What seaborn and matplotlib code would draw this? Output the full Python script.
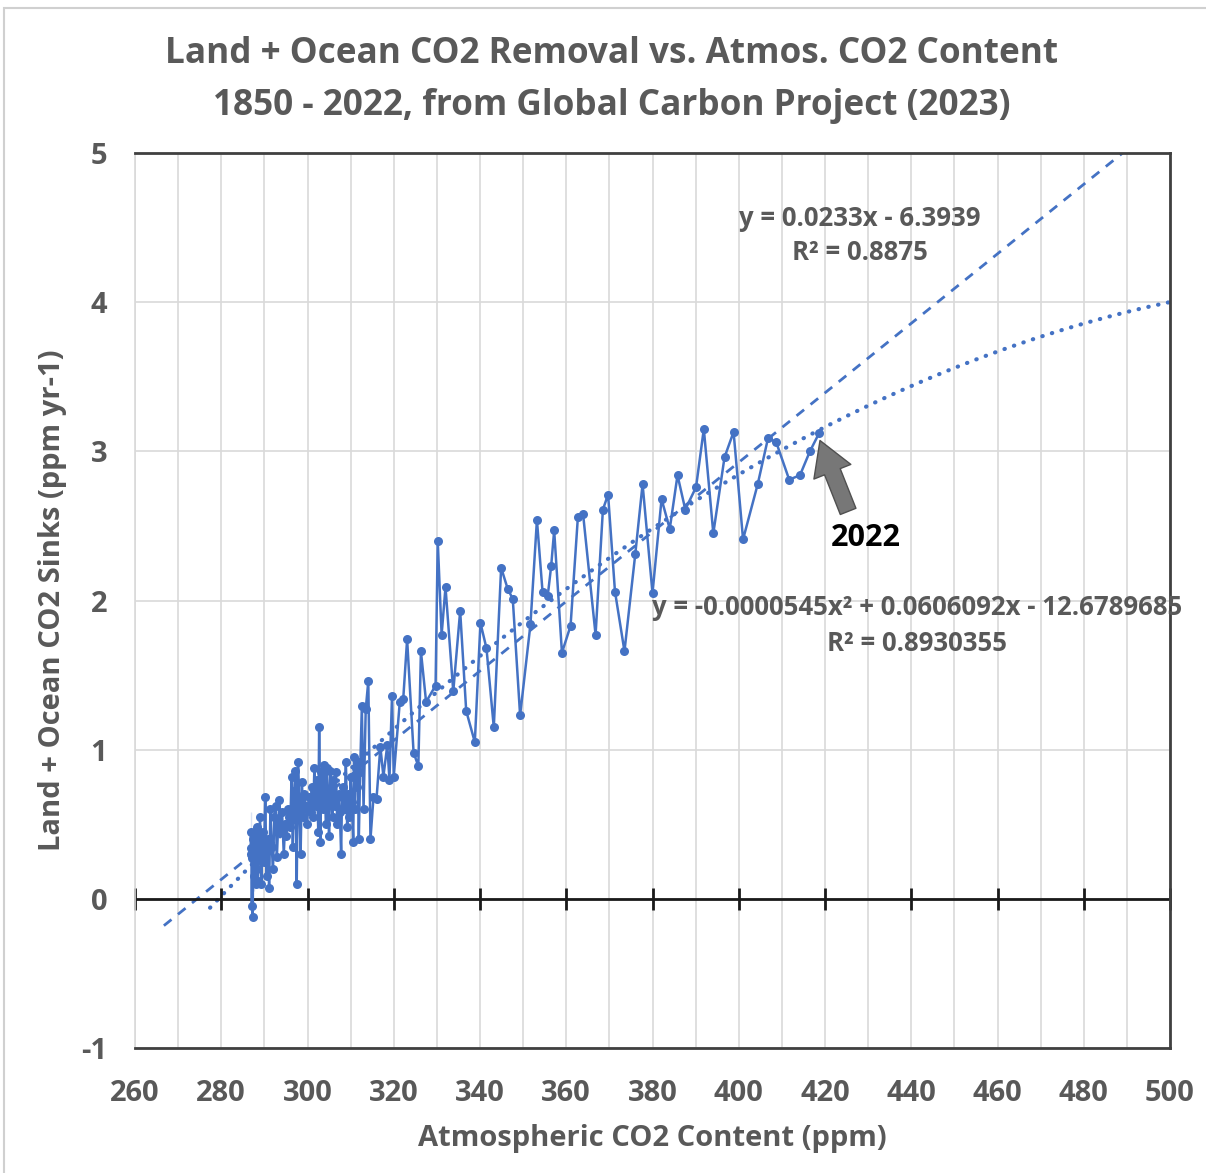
import numpy as np
import pandas as pd
import matplotlib
matplotlib.use("Agg")
import matplotlib.pyplot as plt
import seaborn as sns
from matplotlib.patches import Rectangle

# ---------------- data ----------------
co2_ppm = [
    # 1850-1869
    286.8, 286.9, 287.0, 287.0, 287.1, 287.2, 287.2, 287.3, 287.4, 287.5,
    287.6, 287.6, 287.7, 287.8, 287.9, 288.0, 288.1, 288.2, 288.3, 288.5,
    # 1870-1889
    288.7, 289.0, 289.3, 289.6, 289.9, 290.2, 290.5, 290.8, 291.1, 291.4,
    291.7, 292.0, 292.3, 292.6, 292.9, 293.2, 293.5, 293.8, 294.1, 294.5,
    # 1890-1909
    294.8, 295.1, 295.4, 295.7, 296.0, 296.3, 296.6, 296.9, 297.2, 297.5,
    297.8, 298.1, 298.4, 298.7, 299.0, 299.3, 299.6, 299.9, 300.3, 300.7,
    # 1910-1929
    301.0, 301.3, 301.6, 301.9, 302.2, 302.5, 302.7, 303.0, 303.2, 303.5,
    303.8, 304.0, 304.3, 304.5, 304.8, 305.0, 305.3, 305.5, 305.8, 306.0,
    # 1930-1949
    306.3, 306.6, 306.9, 307.2, 307.5, 307.8, 308.0, 308.3, 308.6, 308.9,
    309.2, 309.5, 309.7, 310.0, 310.3, 310.6, 310.8, 311.0, 311.2, 311.4,
    # 1950-1958
    311.6, 311.9, 312.2, 312.6, 313.0, 313.5, 314.1, 314.6, 315.3,
    # 1959-2022
    316.0, 316.9, 317.6, 318.5, 319.0, 319.6, 320.0, 321.4, 322.2, 323.1,
    324.6, 325.7, 326.3, 327.5, 329.7, 330.2, 331.1, 332.0, 333.8, 335.4,
    336.8, 338.8, 340.1, 341.5, 343.2, 344.9, 346.4, 347.6, 349.3, 351.7,
    353.2, 354.5, 355.7, 356.5, 357.2, 359.0, 361.0, 362.7, 363.9, 366.8,
    368.5, 369.7, 371.3, 373.5, 376.0, 377.7, 380.0, 382.1, 384.0, 385.8,
    387.6, 390.1, 391.9, 394.1, 396.7, 398.8, 401.0, 404.4, 406.8, 408.7,
    411.7, 414.2, 416.5, 418.6,
]
sink_ppm_yr = [
    0.30, 0.45, 0.10, 0.58, -0.05, 0.35, 0.20, -0.12, 0.40, 0.15,
    0.50, 0.05, 0.30, 0.25, 0.45, 0.10, 0.38, 0.20, 0.48, 0.12,
    0.30, 0.55, 0.10, 0.45, 0.25, 0.68, 0.15, 0.40, 0.07, 0.60,
    0.35, 0.20, 0.55, 0.62, 0.28, 0.50, 0.66, 0.45, 0.58, 0.30,
    0.50, 0.42, 0.60, 0.55, 0.48, 0.82, 0.35, 0.72, 0.86, 0.10,
    0.92, 0.65, 0.30, 0.78, 0.55, 0.70, 0.62, 0.50, 0.68, 0.58,
    0.75, 0.55, 0.88, 0.62, 0.80, 0.45, 1.15, 0.38, 0.85, 0.60,
    0.90, 0.72, 0.50, 0.88, 0.65, 0.42, 0.86, 0.70, 0.55, 0.80,
    0.62, 0.85, 0.50, 0.70, 0.58, 0.30, 0.68, 0.75, 0.60, 0.92,
    0.48, 0.70, 0.55, 0.82, 0.65, 0.38, 0.95, 0.60, 0.88, 0.75,
    0.92, 0.40, 0.85, 1.29, 0.60, 1.27, 1.46, 0.40, 0.68,
    0.67, 1.02, 0.82, 1.03, 0.80, 1.36, 0.82, 1.32, 1.34, 1.74,
    0.98, 0.89, 1.66, 1.32, 1.43, 2.40, 1.77, 2.09, 1.39, 1.93,
    1.26, 1.05, 1.85, 1.68, 1.15, 2.22, 2.08, 2.01, 1.23, 1.84,
    2.54, 2.06, 2.03, 2.23, 2.47, 1.65, 1.83, 2.56, 2.58, 1.77,
    2.61, 2.71, 2.06, 1.66, 2.31, 2.78, 2.05, 2.68, 2.48, 2.84,
    2.61, 2.76, 3.15, 2.45, 2.96, 3.13, 2.41, 2.78, 3.09, 3.06,
    2.81, 2.84, 3.00, 3.12,
]

x_ticks = [260, 280, 300, 320, 340, 360, 380, 400, 420, 440, 460, 480, 500]
x_minor = [260, 270, 280, 290, 300, 310, 320, 330, 340, 350, 360, 370, 380,
           390, 400, 410, 420, 430, 440, 450, 460, 470, 480, 490, 500]
y_ticks = [-1, 0, 1, 2, 3, 4, 5]

lin_coef = [0.0233, -6.3939]
quad_coef = [-0.0000545, 0.0606092, -12.6789685]
lin_span = [266.7, 500.0]
quad_span = [277.4, 500.0]

title_lines = ["Land + Ocean CO2 Removal vs. Atmos. CO2 Content",
               "1850 - 2022, from Global Carbon Project (2023)"]
lin_label_1 = "y = 0.0233x - 6.3939"
lin_label_2 = "R² = 0.8875"
quad_label_1 = "y = -0.0000545x² + 0.0606092x - 12.6789685"
quad_label_2 = "R² = 0.8930355"
last_year = "2022"

# ---------------- styling ----------------
BLUE = "#4472C4"
GRAY = "#595959"
GRID = "#d9d9d9"

sns.set_theme(style="white")
plt.rcParams['font.family'] = ['Open Sans', 'DejaVu Sans']
plt.rcParams['axes.unicode_minus'] = False

W, H = 1206, 1173
fig = plt.figure(figsize=(W / 100, H / 100), dpi=100)
L, R, T, B = 135, 1170, 153, 1048
ax = fig.add_axes([L / W, 1 - B / H, (R - L) / W, (B - T) / H])

# trend lines
xl = np.linspace(lin_span[0], lin_span[1], 200)
yl = np.polyval(lin_coef, xl)
xq = np.linspace(quad_span[0], quad_span[1], 200)
yq = np.polyval(quad_coef, xq)
sns.lineplot(x=xl, y=yl, ax=ax, color=BLUE, lw=2, linestyle=(0, (3.5, 3)),
             sort=False, zorder=2)
sns.lineplot(x=xq, y=yq, ax=ax, color=BLUE, lw=3.0, linestyle=(0, (0.1, 2.3)),
             dash_capstyle='round', solid_capstyle='round', sort=False, zorder=2)

# data series
df = pd.DataFrame({"co2": co2_ppm, "sink": sink_ppm_yr})
sns.lineplot(data=df, x="co2", y="sink", sort=False, ax=ax, color=BLUE,
             lw=1.8, marker="o", markersize=6.5, markeredgewidth=0, zorder=3)

ax.set_xlim(260, 500)
ax.set_ylim(-1, 5)
ax.set_xticks(x_ticks)
ax.set_xticks(x_minor, minor=True)
ax.set_yticks(y_ticks)
ax.grid(True, which="both", axis="x", color=GRID, lw=1.2, zorder=0)
ax.grid(True, which="major", axis="y", color=GRID, lw=1.2, zorder=0)
ax.set_axisbelow(True)

# x axis at y = 0 with crossing tick marks
ax.axhline(0, color="#1a1a1a", lw=2, zorder=2.5)
ax.plot(x_ticks, [0] * len(x_ticks), ls="none", marker="|", ms=16, mew=2,
        color="#1a1a1a", zorder=2.5, clip_on=False)

for side in ["top", "right", "bottom"]:
    ax.spines[side].set_color("#404040")
    ax.spines[side].set_linewidth(2)
ax.spines["left"].set_color(GRID)
ax.spines["left"].set_linewidth(1.2)

ax.tick_params(axis="both", which="both", length=0)
ax.tick_params(axis="x", pad=22, labelsize=21, labelcolor=GRAY)
ax.tick_params(axis="y", pad=20, labelsize=21, labelcolor=GRAY)
for lab in ax.get_xticklabels() + ax.get_yticklabels():
    lab.set_fontweight("bold")

ax.set_xlabel("Atmospheric CO2 Content (ppm)", fontsize=21, fontweight="bold",
              color=GRAY, labelpad=12)
ax.set_ylabel("Land + Ocean CO2 Sinks (ppm yr-1)", fontsize=21,
              fontweight="bold", color=GRAY, labelpad=10)

# equation labels
eq_kw = dict(fontsize=18.5, fontweight="bold", color=GRAY, va="center")
ax.text(428.1, 4.56, lin_label_1, ha="center", **eq_kw)
ax.text(428.1, 4.33, lin_label_2, ha="center", **eq_kw)
ax.text(379.9, 1.95, quad_label_1, ha="left", clip_on=False, **eq_kw)
ax.text(441.3, 1.715, quad_label_2, ha="center", **eq_kw)

# 2022 annotation
ax.annotate("", xy=(co2_ppm[-1], sink_ppm_yr[-1] - 0.03), xytext=(425.6, 2.58),
            arrowprops=dict(arrowstyle="simple,head_width=1.3,head_length=1.1,tail_width=0.55",
                            fc="#777777", ec="#505050", lw=1, mutation_scale=22),
            zorder=4)
ax.text(429.5, 2.42, last_year, ha="center", va="center", fontsize=22,
        fontweight="bold", color="black")

# title
fig.text(612 / W, 1 - 54 / H, title_lines[0], ha="center", va="center",
         fontsize=25.3, fontweight="bold", color=GRAY)
fig.text(612 / W, 1 - 106 / H, title_lines[1], ha="center", va="center",
         fontsize=25.3, fontweight="bold", color=GRAY)

# chart-area border
fig.patches.append(Rectangle((4 / W, -0.02), 1.1, 1 - 8 / H + 0.02,
                             transform=fig.transFigure, fill=False,
                             ec="#d0d0d0", lw=1.5))

fig.savefig("out.png", dpi=100)
